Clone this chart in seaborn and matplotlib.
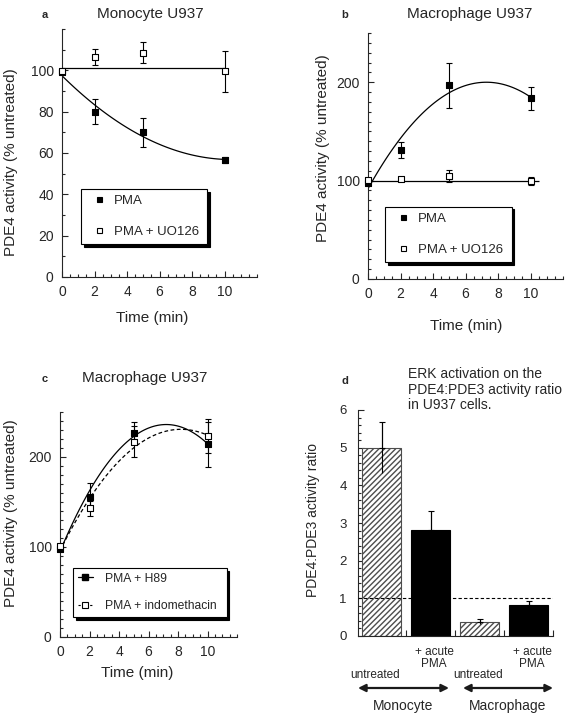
"""Four-panel PDE4 activity figure (U937 monocytes / macrophages)."""

import numpy as np
import seaborn as sns
import matplotlib.pyplot as plt
from matplotlib.lines import Line2D
from matplotlib.patches import FancyArrowPatch
from matplotlib.legend_handler import HandlerLine2D
from matplotlib.ticker import MultipleLocator

# --- Data ---
TIME = [0, 2, 5, 10]

# a: Monocyte U937
A_PMA = [99, 80, 70, 56.5]
A_PMA_ERR = [0, 6, 7, 1.5]
A_UO = [99.5, 106.5, 108.5, 99.5]
A_UO_ERR = [0, 4, 5, 10]
A_REF = 101.3
A_REF_SPAN = [0, 10]

# b: Macrophage U937
B_PMA = [97.5, 131, 197, 183.5]
B_PMA_ERR = [0, 8, 23, 12]
B_UO = [100.5, 101.5, 105, 100]
B_UO_ERR = [0, 2, 6, 4]
B_REF = 100
B_REF_SPAN = [0, 10.5]

# c: Macrophage U937, H89 / indomethacin
C_H89 = [98, 156, 227, 214]
C_H89_ERR = [2, 15, 12, 25]
C_INDO = [101, 143, 217, 223]
C_INDO_ERR = [2, 8, 17, 19]

# d: PDE4:PDE3 ratio
D_GROUPS = ["Monocyte untreated", "Monocyte + acute PMA",
            "Macrophage untreated", "Macrophage + acute PMA"]
D_RATIO = [5.0, 2.82, 0.38, 0.81]
D_ERR = [0.68, 0.5, 0.07, 0.11]
D_HATCHED = [True, False, True, False]
D_REF = 1.0

W, H = 565, 715  # figure size in pixels


def box(left, top, right, bottom):
    """Pixel box -> figure fraction rect."""
    return [left / W, 1 - bottom / H, (right - left) / W, (bottom - top) / H]


def fp(x, y):
    return (x / W, 1 - y / H)


class EndMarkerHandler(HandlerLine2D):
    """Legend line with the marker at its right end."""

    def get_xdata(self, legend, xdescent, ydescent, width, height, fontsize):
        xdata = np.array([-xdescent, -xdescent + width])
        return xdata, xdata[-1:]


def draw_series(ax, y, err, filled, fit=True, dashed=False):
    if fit:
        sns.regplot(x=TIME, y=y, order=2, ci=None, scatter=False, ax=ax,
                    line_kws={"color": "black", "lw": 0.9,
                              "ls": (0, (3, 2)) if dashed else "-"})
    ax.errorbar(TIME, y, yerr=err, fmt="none", ecolor="black",
                elinewidth=0.8, capsize=2, capthick=0.8, zorder=3,
                clip_on=False)
    sns.scatterplot(x=TIME, y=y, marker="s", s=18,
                    color="black" if filled else "white",
                    edgecolor="black", linewidth=0.8, ax=ax, zorder=4,
                    clip_on=False)


def style_time_axis(ax, ylim, yticks, yminor):
    ax.set_xlim(0, 12)
    ax.set_ylim(*ylim)
    ax.set_xticks(range(0, 11, 2))
    ax.xaxis.set_minor_locator(MultipleLocator(0.5))
    ax.set_yticks(yticks)
    ax.yaxis.set_minor_locator(MultipleLocator(yminor))
    ax.tick_params(which="both", direction="in", labelsize=10, width=0.8)
    ax.tick_params(which="major", length=4.5)
    ax.tick_params(which="minor", length=2.5)
    ax.tick_params(axis="y", pad=6)
    ax.tick_params(axis="x", pad=6)
    sns.despine(ax=ax)
    ax.set_xlabel("")
    ax.set_ylabel("")


def shadow_legend(ax, handles, labels, anchor, fontsize, **kw):
    leg = ax.legend(handles, labels, loc="lower left", bbox_to_anchor=anchor,
                    mode="expand", borderaxespad=0, fontsize=fontsize,
                    frameon=True, fancybox=False, edgecolor="black",
                    framealpha=1,
                    shadow={"ox": 2, "oy": -2, "facecolor": "black",
                            "edgecolor": "black", "alpha": 1}, **kw)
    leg.get_frame().set_linewidth(0.8)
    return leg


def marker_handle(filled):
    return Line2D([], [], ls="none", marker="s", ms=3.6,
                  mfc="black" if filled else "white", mec="black", mew=0.8)


def plot_figure():
    sns.set_theme(style="ticks", rc={"axes.linewidth": 0.8})
    plt.rcParams["font.family"] = ["Liberation Sans", "DejaVu Sans"]

    fig = plt.figure(figsize=(W / 100, H / 100), dpi=100)

    # ---------------- a ----------------
    ax_a = fig.add_axes(box(62, 29, 257, 277))
    draw_series(ax_a, A_PMA, A_PMA_ERR, filled=True)
    ax_a.hlines(A_REF, *A_REF_SPAN, color="black", lw=0.9)
    draw_series(ax_a, A_UO, A_UO_ERR, filled=False, fit=False)
    style_time_axis(ax_a, (0, 120), range(0, 101, 20), 10)
    shadow_legend(ax_a, [marker_handle(True), marker_handle(False)],
                  ["PMA", "PMA + UO126"], (0.097, 0.133, 0.646, 0.24),
                  9.5, borderpad=0.45, labelspacing=1.42,
                  handlelength=1.9, handletextpad=0.15)

    # ---------------- b ----------------
    ax_b = fig.add_axes(box(368, 33, 563, 279))
    draw_series(ax_b, B_PMA, B_PMA_ERR, filled=True)
    ax_b.hlines(B_REF, *B_REF_SPAN, color="black", lw=0.9)
    draw_series(ax_b, B_UO, B_UO_ERR, filled=False, fit=False)
    style_time_axis(ax_b, (0, 250), [0, 100, 200], 10)
    shadow_legend(ax_b, [marker_handle(True), marker_handle(False)],
                  ["PMA", "PMA + UO126"], (0.087, 0.07, 0.65, 0.23),
                  9.5, borderpad=0.45, labelspacing=1.42,
                  handlelength=1.9, handletextpad=0.15)

    # ---------------- c ----------------
    ax_c = fig.add_axes(box(60, 412, 237, 637))
    draw_series(ax_c, C_H89, C_H89_ERR, filled=True)
    draw_series(ax_c, C_INDO, C_INDO_ERR, filled=False, dashed=True)
    style_time_axis(ax_c, (0, 250), [0, 100, 200], 10)
    c_handles = [
        Line2D([], [], color="black", lw=0.9, marker="s", ms=3.8,
               mfc="black", mec="black"),
        Line2D([], [], color="black", lw=0.8, ls=(0, (2, 1.5)), marker="s",
               ms=3.8, mfc="white", mec="black", mew=0.8),
    ]
    shadow_legend(ax_c, c_handles, ["PMA + H89", "PMA + indomethacin"],
                  (0.075, 0.088, 0.866, 0.25), 8.7,
                  borderpad=0.4, labelspacing=1.3, handlelength=1.2,
                  handletextpad=1.0,
                  handler_map={Line2D: EndMarkerHandler()})

    # ---------------- d ----------------
    ax_d = fig.add_axes(box(358, 410, 553, 636))
    colors = ["white" if h else "black" for h in D_HATCHED]
    sns.barplot(x=D_GROUPS, y=D_RATIO, hue=D_GROUPS, palette=colors,
                legend=False, width=0.8, ax=ax_d, zorder=2)
    for patch, hatched in zip(ax_d.patches, D_HATCHED):
        if hatched:
            patch.set_edgecolor("0.3")
            patch.set_hatch("//////")
        else:
            patch.set_edgecolor("black")
        patch.set_linewidth(0.8)
    xs = np.arange(len(D_RATIO))
    ax_d.errorbar(xs, D_RATIO, yerr=D_ERR, fmt="none", ecolor="black",
                  elinewidth=0.8, capsize=0, zorder=3)
    ax_d.errorbar(xs, D_RATIO, yerr=[np.zeros(len(D_ERR)), D_ERR],
                  fmt="none", ecolor="black", elinewidth=0.8, capsize=2,
                  capthick=0.8, zorder=3)
    ax_d.axhline(D_REF, color="black", lw=0.8, ls=(0, (3, 2)), zorder=3)
    ax_d.set_xlim(-0.48, 3.5)
    ax_d.set_ylim(0, 6)
    ax_d.set_xticks(xs + 0.5)
    ax_d.set_xticklabels([])
    ax_d.set_yticks(range(0, 7))
    ax_d.yaxis.set_minor_locator(MultipleLocator(0.2))
    ax_d.tick_params(which="both", direction="in", labelsize=9.5, width=0.8)
    ax_d.tick_params(which="major", length=4)
    ax_d.tick_params(which="minor", length=2)
    ax_d.tick_params(axis="y", pad=8)
    ax_d.set_xlabel("")
    ax_d.set_ylabel("")
    sns.despine(ax=ax_d)

    # ---------------- titles, labels, annotations ----------------
    def ftext(x, y, s, **kw):
        kw.setdefault("ha", "center")
        kw.setdefault("va", "center")
        fig.text(*fp(x, y), s, **kw)

    ftext(45, 15, "a", fontsize=8, fontweight="bold")
    ftext(150, 14, "Monocyte U937", fontsize=11)
    ftext(345, 15, "b", fontsize=8, fontweight="bold")
    ftext(470, 14, "Macrophage U937", fontsize=11)
    ftext(45, 379, "c", fontsize=8, fontweight="bold")
    ftext(145, 378, "Macrophage U937", fontsize=11)
    ftext(345, 381, "d", fontsize=8, fontweight="bold")
    ftext(408, 367, "ERK activation on the\nPDE4:PDE3 activity ratio\n"
          "in U937 cells.", fontsize=10, ha="left", va="top",
          linespacing=1.15)

    ftext(152, 318, "Time (min)", fontsize=11)
    ftext(466, 326, "Time (min)", fontsize=11)
    ftext(137, 673, "Time (min)", fontsize=11)

    ylab = "PDE4 activity (% untreated)"
    ftext(11, 162, ylab, fontsize=11, rotation=90)
    ftext(323, 148, ylab, fontsize=11, rotation=90)
    ftext(11, 513, ylab, fontsize=11, rotation=90)
    ftext(313, 520, "PDE4:PDE3 activity ratio", fontsize=10, rotation=90)

    ftext(375, 675, "untreated", fontsize=8.5)
    ftext(478, 675, "untreated", fontsize=8.5)
    ftext(434, 658, "+ acute\nPMA", fontsize=8.5, linespacing=1.1)
    ftext(532, 658, "+ acute\nPMA", fontsize=8.5, linespacing=1.1)
    for x0, x1 in [(358, 449), (463, 553)]:
        fig.add_artist(FancyArrowPatch(
            fp(x0, 688), fp(x1, 688), transform=fig.transFigure,
            arrowstyle="<|-|>", mutation_scale=11, color="0.1", lw=1.6,
            shrinkA=0, shrinkB=0))
    ftext(403, 706, "Monocyte", fontsize=10)
    ftext(508, 706, "Macrophage", fontsize=10)

    fig.savefig("out.png", dpi=100)
    plt.close(fig)


if __name__ == "__main__":
    plot_figure()
